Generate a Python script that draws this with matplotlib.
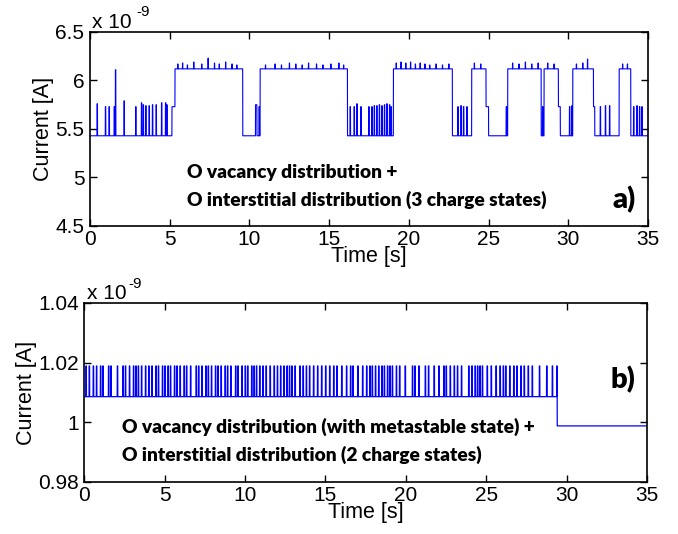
import numpy as np
import matplotlib
matplotlib.use("Agg")
import matplotlib.pyplot as plt
from matplotlib.ticker import FuncFormatter

# ---------------- panel a: three-level RTN trace (units of 1e-9 A) ----------------
a_level_times = [0.0, 5.14, 5.33, 9.58, 10.38, 10.47, 10.67, 16.15, 19.03, 22.73,
                 23.94, 24.84, 25.00, 26.20, 28.30, 28.48, 29.38, 29.50, 30.28,
                 31.58, 31.66, 33.19, 33.92]
a_level_values = [5.43, 5.73, 6.12, 5.43, 5.75, 5.43, 6.12, 5.43, 6.12, 5.43,
                  6.12, 5.73, 5.43, 6.12, 5.43, 6.12, 5.73, 5.43, 6.12,
                  5.73, 5.43, 6.12, 5.43]

# short excursions from the low level
a_spike_times = [0.44, 0.96, 1.19, 1.51, 1.59, 2.13, 2.86, 3.22, 3.33, 3.49, 3.70,
                 3.91, 4.14, 4.48, 4.73, 4.81, 10.60, 16.31, 16.56, 16.73, 16.98,
                 17.48, 17.67, 17.82, 17.98, 18.14, 18.30, 18.46, 18.61, 18.78,
                 18.88, 23.07, 23.26, 23.42, 23.63, 26.10, 28.38, 30.07, 30.22,
                 32.00, 32.32, 32.58, 34.09, 34.30, 34.46, 34.61]
a_spike_values = [5.76, 5.73, 5.73, 5.73, 6.11, 5.79, 5.73, 5.77, 5.75, 5.74, 5.74,
                  5.75, 5.75, 5.77, 5.77, 5.75, 5.73, 5.73, 5.73, 5.76, 5.73,
                  5.73, 5.73, 5.74, 5.74, 5.75, 5.74, 5.75, 5.76, 5.75,
                  5.73, 5.73, 5.74, 5.73, 5.73, 5.73, 5.73, 5.73, 5.74,
                  5.73, 5.74, 5.74, 5.73, 5.74, 5.73, 5.73]

# small blips on top of the high level
a_blip_times = [5.5, 5.8, 6.1, 6.5, 7.0, 7.4, 7.8, 8.1, 8.5, 8.9, 9.2,
                11.0, 11.6, 12.0, 12.5, 12.9, 13.3, 13.7, 14.2, 14.6, 15.1, 15.6, 15.9,
                19.2, 19.5, 19.8, 20.1, 20.4, 20.7, 21.0, 21.3, 21.7, 22.1, 22.5,
                24.1, 24.5, 26.5, 26.9, 27.3, 27.7, 28.1, 28.7, 29.1,
                30.5, 30.9, 31.2, 33.4, 33.7]
a_blip_values = [6.17, 6.18, 6.16, 6.19, 6.17, 6.23, 6.18, 6.17, 6.19, 6.17, 6.16,
                 6.16, 6.17, 6.16, 6.18, 6.17, 6.16, 6.18, 6.17, 6.16, 6.17, 6.18, 6.16,
                 6.18, 6.19, 6.18, 6.19, 6.17, 6.18, 6.17, 6.16, 6.17, 6.16, 6.17,
                 6.18, 6.17, 6.18, 6.17, 6.19, 6.17, 6.18, 6.18, 6.17,
                 6.17, 6.18, 6.22, 6.17, 6.17]

# ---------------- panel b: two-level RTN with metastable state (units of 1e-9 A) ----------------
b_level_times = [0.0, 29.40]
b_level_values = [1.0086, 0.9988]
b_spike_top = 1.0189
b_spike_times = [0.10, 0.30, 0.55, 0.75, 1.00, 1.15, 1.50, 1.65, 2.05, 2.40, 2.55, 2.80,
                 3.05, 3.20, 3.35, 3.55, 3.80, 4.00, 4.20, 4.45, 4.60, 4.85, 5.00, 5.20,
                 5.35, 5.60, 5.75, 5.95, 6.20, 6.35, 6.60, 6.95, 7.10, 7.30, 7.55, 7.70,
                 7.90, 8.15, 8.30, 8.50, 8.75, 8.90, 9.10, 9.40, 9.55, 9.80, 10.00, 10.15,
                 10.40, 10.55, 10.70, 10.90, 11.10, 11.30, 11.55, 11.80, 12.00, 12.20,
                 12.40, 12.60, 12.75, 12.90, 13.10, 13.40, 13.60, 13.80, 14.00, 14.25,
                 14.50, 14.75, 15.00, 15.25, 15.50, 15.70, 16.00, 16.30, 16.55, 16.70,
                 17.00, 17.30, 17.55, 17.75, 17.90, 18.10, 18.30, 18.50, 18.65, 18.85,
                 19.00, 19.15, 19.40, 19.60, 19.95, 20.40, 20.55, 20.80, 21.20, 21.40,
                 21.75, 22.05, 22.35, 22.50, 22.75, 23.00, 23.20, 23.45, 23.90, 24.10,
                 24.30, 24.45, 24.60, 24.75, 25.05, 25.30, 25.60, 25.85, 26.05, 26.20,
                 26.45, 26.70, 26.90, 27.15, 27.35, 27.60, 27.85, 28.30, 28.75, 29.10,
                 29.38]

T_END = 35.0
DT = 0.002


def build_trace(level_times, level_values, ev_times, ev_values, width):
    t = np.arange(0.0, T_END + DT / 2, DT)
    idx = np.searchsorted(np.asarray(level_times), t, side="right") - 1
    y = np.asarray(level_values, dtype=float)[idx]
    for ts, v in zip(ev_times, ev_values):
        m = (t >= ts) & (t < ts + width)
        y[m] = v
    return t, y


ta, ya = build_trace(a_level_times, a_level_values, a_spike_times, a_spike_values, 0.03)
_, blips = build_trace([0.0], [np.nan], a_blip_times, a_blip_values, 0.02)
ya = np.where(~np.isnan(blips) & (ya > 6.0), blips, ya)
tb, yb = build_trace(b_level_times, b_level_values, b_spike_times,
                     [b_spike_top] * len(b_spike_times), 0.03)

plt.rcParams["font.family"] = ["Liberation Sans", "DejaVu Sans"]

fig = plt.figure(figsize=(6.78, 5.34), dpi=100)
ax_a = fig.add_axes([0.1327, 0.5768, 0.823, 0.3633])
ax_b = fig.add_axes([0.1243, 0.0974, 0.830, 0.3352])

TICK_FS = 15
LABEL_FS = 15.5
NOTE_FS = 13.8
TAG_FS = 21
NOTE_FONT = ["Lato", "DejaVu Sans"]

gfmt = FuncFormatter(lambda v, p: f"{v:g}")

for ax in (ax_a, ax_b):
    ax.set_xlim(0, 35)
    ax.set_xticks(np.arange(0, 36, 5))
    ax.tick_params(direction="in", top=True, right=True, length=5, width=1,
                   labelsize=TICK_FS)
    ax.tick_params(axis="x", pad=3)
    ax.tick_params(axis="y", pad=4)
    for s in ax.spines.values():
        s.set_linewidth(1.2)
    ax.yaxis.set_major_formatter(gfmt)
    ax.set_xlabel("Time [s]", fontsize=LABEL_FS, labelpad=-2)
    ax.set_ylabel("Current [A]", fontsize=LABEL_FS, labelpad=1)

# panel a
ax_a.plot(ta, ya, color="blue", lw=0.8)
ax_a.set_ylim(4.5, 6.5)
ax_a.set_yticks([4.5, 5.0, 5.5, 6.0, 6.5])
ax_a.text(6.08, 5.05, "O vacancy distribution +", fontsize=NOTE_FS,
          fontweight="heavy", family=NOTE_FONT, va="center", ha="left")
ax_a.text(6.08, 4.77, "O interstitial distribution (3 charge states)", fontsize=NOTE_FS,
          fontweight="heavy", family=NOTE_FONT, va="center", ha="left")
ax_a.text(33.5, 4.77, "a)", fontsize=TAG_FS, fontweight="heavy", family=NOTE_FONT,
          va="center", ha="center")

# panel b
ax_b.plot(tb, yb, color="blue", lw=0.9)
ax_b.set_ylim(0.98, 1.04)
ax_b.set_yticks([0.98, 1.0, 1.02, 1.04])
ax_b.text(2.34, 0.99843, "O vacancy distribution (with metastable state) +",
          fontsize=NOTE_FS, fontweight="heavy", family=NOTE_FONT, va="center", ha="left")
ax_b.text(2.34, 0.98897, "O interstitial distribution (2 charge states)",
          fontsize=NOTE_FS, fontweight="heavy", family=NOTE_FONT, va="center", ha="left")
ax_b.text(33.5, 1.0142, "b)", fontsize=TAG_FS, fontweight="heavy", family=NOTE_FONT,
          va="center", ha="center")

# exponent multiplier above each y axis
for ax, sup_x in ((ax_a, 0.084), (ax_b, 0.078)):
    ax.text(0.004, 1.0, "x 10", transform=ax.transAxes, fontsize=TICK_FS,
            ha="left", va="bottom")
    ax.text(sup_x, 1.065, "-9", transform=ax.transAxes, fontsize=11,
            ha="left", va="bottom")

fig.savefig("out.png", dpi=100)
